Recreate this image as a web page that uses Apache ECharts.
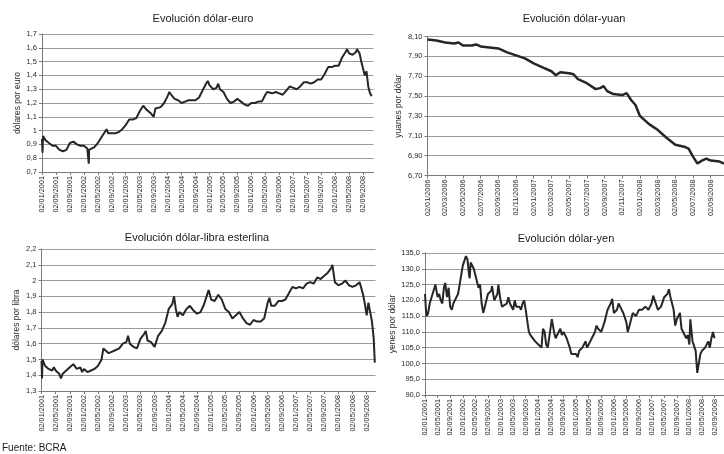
<!DOCTYPE html>
<html><head><meta charset="utf-8">
<script src="https://cdn.jsdelivr.net/npm/echarts@6/dist/echarts.min.js"></script>
<style>html,body{margin:0;padding:0;background:#fff}#c{width:724px;height:454px}</style>
</head><body><div id="c"></div>
<script>
// x positions are months since 02/01/2001 (yuan: months since 02/01/2006)
const euroMonths = [0,0.15,0.3,1,1.5,2,2.5,3,4,4.5,5,5.5,6,6.5,7,7.5,8,8.5,9,10,11,12,12.5,13,13.4,13.5,14,15,16,17,18,18.5,19,20,21,22,23,24,25,26,27,28,29,30,31,32,32.5,33,34,35,36,36.5,37,38,39,40,41,42,43,44,45,46,47,47.5,48,49,50,50.5,51,52,53,54,55,56,57,58,59,60,61,62,63,64,64.5,65,66,67,68,69,70,71,72,73,74,75,76,77,78,79,80,81,82,83,84,85,86,87,87.4,88,89,90,90.3,91,91.5,92,92.5,93,93.5,94,94.5];
const euroValues = [0.94,0.84,0.96,0.93,0.92,0.91,0.90,0.89,0.89,0.88,0.86,0.85,0.85,0.84,0.86,0.87,0.91,0.92,0.92,0.90,0.89,0.89,0.88,0.87,0.76,0.86,0.87,0.88,0.91,0.95,0.99,1.01,0.98,0.98,0.98,0.99,1.01,1.04,1.08,1.08,1.09,1.14,1.18,1.15,1.13,1.10,1.16,1.16,1.17,1.20,1.25,1.28,1.26,1.23,1.22,1.20,1.21,1.22,1.22,1.22,1.24,1.29,1.34,1.36,1.33,1.30,1.31,1.34,1.30,1.28,1.23,1.20,1.21,1.23,1.21,1.19,1.18,1.20,1.20,1.21,1.21,1.26,1.28,1.27,1.27,1.28,1.27,1.26,1.29,1.32,1.31,1.30,1.32,1.35,1.35,1.34,1.35,1.37,1.37,1.41,1.46,1.46,1.47,1.47,1.53,1.57,1.59,1.56,1.55,1.57,1.59,1.56,1.50,1.45,1.40,1.43,1.32,1.27,1.25];

const libraMonths = [0,0.15,0.3,1,1.5,2,3,3.5,4,5,5.5,6,7,8,9,9.5,10,11,11.5,12,13,13.5,14,15,16,17,17.5,18,19,20,21,22,23,24,24.5,25,26,27,28,29,29.5,30,31,32,32.5,33,34,35,36,37,37.5,38,38.5,39,40,41,42,43,44,45,46,47,47.3,48,49,50,50.5,51,52,53,54,55,56,57,58,59,60,61,62,63,64,64.5,65,66,67,68,69,70,71,72,73,74,75,76,77,78,79,80,81,82,82.3,83,84,85,86,87,88,89,90,90.5,91,91.5,92,92.5,93,93.5,94,94.3];
const libraValues = [1.49,1.38,1.50,1.46,1.45,1.44,1.43,1.45,1.43,1.41,1.38,1.41,1.43,1.45,1.47,1.46,1.44,1.45,1.42,1.44,1.42,1.43,1.43,1.44,1.46,1.50,1.57,1.56,1.54,1.55,1.56,1.57,1.60,1.61,1.65,1.60,1.58,1.57,1.63,1.66,1.68,1.62,1.61,1.58,1.57,1.65,1.68,1.73,1.82,1.85,1.90,1.82,1.77,1.80,1.78,1.82,1.84,1.81,1.79,1.80,1.85,1.92,1.94,1.88,1.87,1.91,1.92,1.88,1.82,1.80,1.76,1.78,1.80,1.76,1.73,1.72,1.75,1.74,1.74,1.76,1.86,1.89,1.84,1.84,1.87,1.87,1.88,1.92,1.96,1.95,1.96,1.95,1.98,1.99,1.98,2.02,2.01,2.03,2.05,2.08,2.10,1.99,1.97,1.98,2.00,1.97,1.96,1.97,1.99,1.99,1.91,1.85,1.78,1.86,1.80,1.74,1.63,1.48];

const yenMonths = [0,0.3,0.6,1,1.5,2,3,3.3,4,4.5,5,5.5,6,6.4,7,7.5,8,8.5,9,10,10.5,11,12,13,13.5,14,14.2,14.5,15,15.5,16,17,17.5,18,18.5,19,20,21,21.3,22,23,23.3,24,24.5,25,26,26.5,27,28,28.5,29,30,30.5,31,31.5,32,33,33.5,34,35,36,37,37.5,38,38.5,39,40,40.3,41,41.5,42,43,43.5,44,45,46,46.5,47,48,48.5,49,50,51,51.5,52,53,54,54.5,55,56,57,58,59,59.5,60,61,61.5,62,63,64,64.4,65,66,67,68,69,70,71,72,72.5,73,74,75,76,77,77.5,78,79,79.5,80,81,81.5,82,83,83.5,84,84.3,85,86,86.5,87,87.5,88,89,90,90.5,91,91.5,92];
const yenValues = [122,117,115,116,119,119,124,125,121,122,120,119,124,125.5,121,124,118,117,119,121,122,125,131,134,133,128,127,132,132,130,128,124,125,119,116,118,122,123,124.5,120,122,125,120,118,118,119,121,119,117,120,118,118,117,119,120,117,110,109,109,107,106,105,111,110,106,105,112,114,110,108,109,111,109,110,108,105,103,103,103,102,104,105,107,105,105,108,110,112,111,110,113,117,119,120.5,116,117,119,118,116,113,110,112,116,115,117,117,118,117,119,121.5,121,117,118,121,122,123.5,121,117,112,114,116,111,111,108,109,106,114,107,104,97,100,103,104,105,107,105,108,110,108];

const yuanMonths = [0,1,2,3,3.5,4,5,5.5,6,7,8,9,10,11,12,13,14,14.5,15,16,16.5,17,18,19,19.5,19.9,20.3,21,22,22.5,23,23.5,24,25,25.5,26,27,28,29,29.5,30,30.5,31,31.5,32,33,33.5];
const yuanValues = [8.07,8.06,8.04,8.03,8.04,8.01,8.01,8.02,8.00,7.99,7.98,7.94,7.91,7.88,7.83,7.79,7.75,7.71,7.74,7.73,7.72,7.67,7.63,7.57,7.58,7.60,7.55,7.52,7.51,7.53,7.46,7.41,7.30,7.22,7.19,7.16,7.08,7.01,6.99,6.97,6.89,6.82,6.85,6.87,6.85,6.84,6.82];

const xLabels2001 = ['02/01/2001','02/05/2001','02/09/2001','02/01/2002','02/05/2002','02/09/2002','02/01/2003','02/05/2003','02/09/2003','02/01/2004','02/05/2004','02/09/2004','02/01/2005','02/05/2005','02/09/2005','02/01/2006','02/05/2006','02/09/2006','02/01/2007','02/05/2007','02/09/2007','02/01/2008','02/05/2008','02/09/2008'];
const xLabelsYuan = ['02/01/2006','02/03/2006','02/05/2006','02/07/2006','02/09/2006','02/11/2006','02/01/2007','02/03/2007','02/05/2007','02/07/2007','02/09/2007','02/11/2007','02/01/2008','02/03/2008','02/05/2008','02/07/2008','02/09/2008'];
const yLabelsEuro = ['0,7','0,8','0,9','1','1,1','1,2','1,3','1,4','1,5','1,6','1,7'];
const yLabelsYuan = ['6,70','6,90','7,10','7,30','7,50','7,70','7,90','8,10'];
const yLabelsLibra = ['1,3','1,4','1,5','1,6','1,7','1,8','1,9','2','2,1','2,2'];
const yLabelsYen = ['90,0','95,0','100,0','105,0','110,0','115,0','120,0','125,0','130,0','135,0'];

const FONT = '"Liberation Sans", Arial, sans-serif';
const TXT = '#2a2a2a';
const AXC = '#7a7a7a';
const GRC = '#9a9a9a';
const LINE = '#262626';

function xAxis(grid, labels, step, max) {
  const vals = labels.map((_, i) => i * step);
  return {
    type: 'value', gridIndex: grid, min: 0, max: max,
    axisLine: {show: true, onZero: false, lineStyle: {color: AXC, width: 1}},
    axisTick: {show: true, length: 3, customValues: vals, lineStyle: {color: AXC}},
    axisLabel: {customValues: vals, rotate: 90, margin: 4, fontSize: 7.3, fontFamily: FONT, color: TXT,
      formatter: v => { const k = Math.round(v / step); return labels[k] || ''; }},
    splitLine: {show: false}
  };
}
function yAxis(grid, labels, min, interval, name, gap) {
  return {
    type: 'value', gridIndex: grid, min: min, max: +(min + interval * (labels.length - 1)).toFixed(4), interval: interval,
    name: name, nameLocation: 'middle', nameGap: gap,
    nameTextStyle: {fontSize: 8.5, fontFamily: FONT, color: TXT},
    axisLine: {show: true, onZero: false, lineStyle: {color: AXC, width: 1}},
    axisTick: {show: true, length: 3, lineStyle: {color: AXC}},
    axisLabel: {margin: 5, fontSize: 7.5, fontFamily: FONT, color: TXT,
      formatter: v => { const k = Math.round((v - min) / interval); return labels[k] || ''; }},
    splitLine: {show: true, lineStyle: {color: GRC, width: 1}}
  };
}
function series(idx, months, values, w) {
  return {
    type: 'line', xAxisIndex: idx, yAxisIndex: idx, showSymbol: false, symbol: 'none',
    animation: false, lineStyle: {color: LINE, width: w}, itemStyle: {color: LINE},
    data: months.map((m, i) => [m, values[i]])
  };
}
const titleStyle = {fontSize: 11, fontWeight: 'normal', fontFamily: FONT, color: '#1a1a1a'};

const chart = echarts.init(document.getElementById('c'), null, {renderer: 'canvas'});
chart.setOption({
  animation: false,
  backgroundColor: '#fff',
  title: [
    {text: 'Evolución dólar-euro', left: 203, top: 13, textAlign: 'center', padding: 0, textStyle: titleStyle},
    {text: 'Evolución dólar-yuan', left: 574, top: 13, textAlign: 'center', padding: 0, textStyle: titleStyle},
    {text: 'Evolución dólar-libra esterlina', left: 197, top: 232, textAlign: 'center', padding: 0, textStyle: titleStyle},
    {text: 'Evolución dólar-yen', left: 566, top: 233, textAlign: 'center', padding: 0, textStyle: titleStyle},
    {text: 'Fuente: BCRA', left: 2, top: 443, padding: 0, textStyle: {fontSize: 10, fontWeight: 'normal', fontFamily: FONT, color: '#1a1a1a'}}
  ],
  grid: [
    {left: 42, top: 34, width: 331.5, height: 138},
    {left: 427.5, top: 36.5, width: 298, height: 139},
    {left: 41.5, top: 249, width: 334, height: 142},
    {left: 425, top: 253, width: 311.6, height: 142}
  ],
  xAxis: [
    xAxis(0, xLabels2001, 4, 95),
    xAxis(1, xLabelsYuan, 2, 33.5),
    xAxis(2, xLabels2001, 4, 94.5),
    xAxis(3, xLabels2001, 4, 95)
  ],
  yAxis: [
    yAxis(0, yLabelsEuro, 0.7, 0.1, 'dólares por euro', 20),
    yAxis(1, yLabelsYuan, 6.7, 0.2, 'yuanes por dólar', 24),
    yAxis(2, yLabelsLibra, 1.3, 0.1, 'dólares por libra', 20),
    yAxis(3, yLabelsYen, 90, 5, 'yenes por dólar', 24)
  ],
  series: [
    series(0, euroMonths, euroValues, 2),
    series(1, yuanMonths, yuanValues, 2.5),
    series(2, libraMonths, libraValues, 2),
    series(3, yenMonths, yenValues, 2)
  ]
});
</script>
</body></html>
